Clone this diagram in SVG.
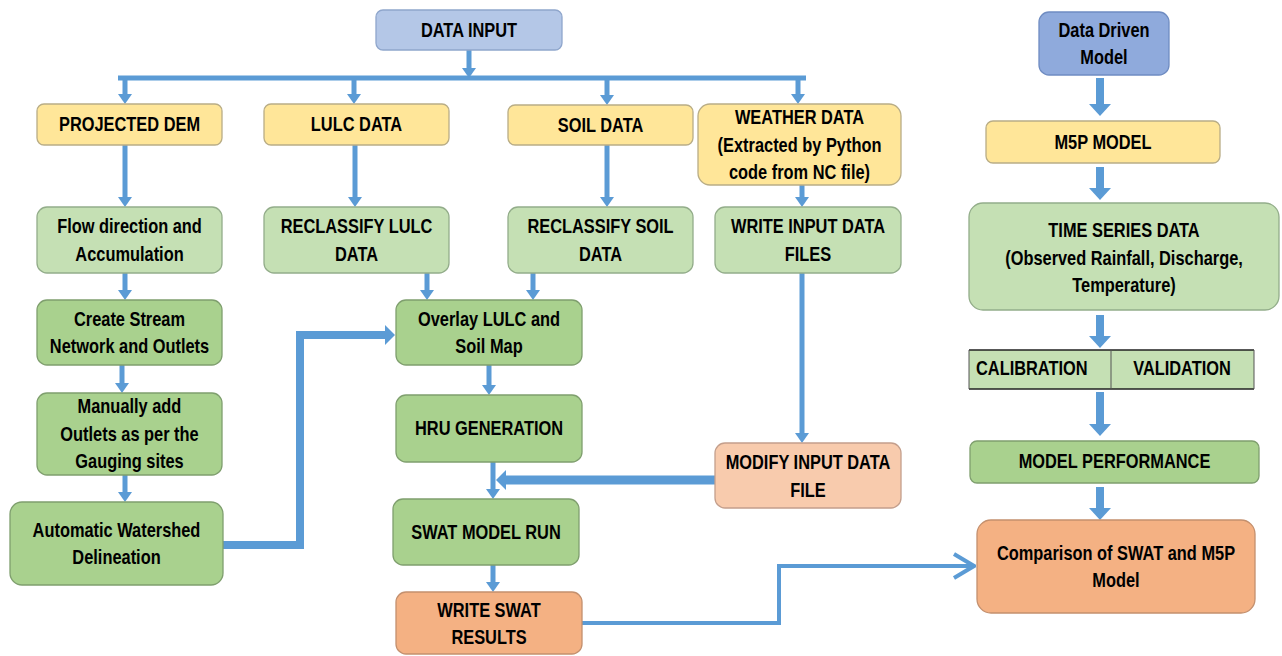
<svg xmlns="http://www.w3.org/2000/svg" width="1282" height="656" viewBox="0 0 1282 656">
<style>
  text { font-family: "Liberation Sans", Arial, sans-serif; font-weight: bold; font-size: 20px; fill: #000; text-anchor: middle; }
  .box { stroke-width: 1.3; }
  .blue { fill: #b4c7e7; stroke: #8fa6cc; }
  .dblue { fill: #8faadc; stroke: #6f8cc2; }
  .yel { fill: #ffe699; stroke: #b9ad86; }
  .lg { fill: #c5e0b4; stroke: #93ad8a; }
  .dg { fill: #a9d18e; stroke: #7f9f6e; }
  .or { fill: #f4b183; stroke: #c4906e; }
  .lor { fill: #f8cbad; stroke: #c49f8c; }
  .c { fill: none; stroke: #5b9bd5; }
  .s { stroke-width: 5; marker-end: url(#as); }
  .b { stroke-width: 8; marker-end: url(#ab); }
</style>
<defs>
  <marker id="as" markerUnits="userSpaceOnUse" markerWidth="12" markerHeight="16" viewBox="0 -8 11 16" refX="0" refY="0" orient="auto">
    <path d="M0,-7 L10,0 L0,7 z" fill="#5b9bd5"/>
  </marker>
  <marker id="ab" markerUnits="userSpaceOnUse" markerWidth="14" markerHeight="24" viewBox="0 -12 13 24" refX="0" refY="0" orient="auto">
    <path d="M0,-11 L12,0 L0,11 z" fill="#5b9bd5"/>
  </marker>
  <marker id="am" markerUnits="userSpaceOnUse" markerWidth="12" markerHeight="24" viewBox="0 -12 11 24" refX="0" refY="0" orient="auto">
    <path d="M0,-10 L10,0 L0,10 z" fill="#5b9bd5"/>
  </marker>
  <marker id="ch" markerUnits="userSpaceOnUse" markerWidth="26" markerHeight="30" viewBox="-24 -15 26 30" refX="0" refY="0" orient="auto">
    <path d="M-20,-12 L0,0 L-20,12" fill="none" stroke="#5b9bd5" stroke-width="4"/>
  </marker>
</defs>

<g id="connectors">
  <path class="c" d="M118,78 H806" stroke-width="5"/>
  <path class="c s" d="M469,50 V68"/>
  <path class="c s" d="M125,78 V94"/>
  <path class="c s" d="M354,78 V94"/>
  <path class="c s" d="M607,78 V95"/>
  <path class="c s" d="M798,78 V94"/>
  <path class="c s" d="M125,145 V197"/>
  <path class="c s" d="M355,145 V197"/>
  <path class="c s" d="M607,145 V197"/>
  <path class="c s" d="M802,185 V197"/>
  <path class="c s" d="M125,273 V290"/>
  <path class="c s" d="M427,273 V290"/>
  <path class="c s" d="M533,273 V290"/>
  <path class="c s" d="M122,365 V383"/>
  <path class="c s" d="M125,475 V492"/>
  <path class="c s" d="M489,365 V385"/>
  <path class="c s" d="M493,462 V489"/>
  <path class="c s" d="M493,565 V582"/>
  <path class="c s" d="M802,273 V433"/>
  <path class="c" d="M223,545 H300 V335 H385" stroke-width="8" marker-end="url(#am)"/>
  <path class="c" d="M715,480 H506" stroke-width="9" marker-end="url(#am)"/>
  <path class="c" d="M582,623 H779 V566 H974" stroke-width="4" marker-end="url(#ch)"/>
  <path class="c b" d="M1100,78 V104"/>
  <path class="c b" d="M1100,167 V188"/>
  <path class="c b" d="M1100,315 V336"/>
  <path class="c b" d="M1100,392 V424"/>
  <path class="c b" d="M1100,487 V508"/>
</g>

<g id="n-data-input"><rect class="box blue" x="376" y="10" width="186" height="40" rx="7"/><g transform="translate(469 0) scale(0.82 1)"><text y="37">DATA INPUT</text></g></g>
<g id="n-projected-dem"><rect class="box yel" x="37" y="104" width="185" height="41" rx="7"/><g transform="translate(129.5 0) scale(0.82 1)"><text y="131">PROJECTED DEM</text></g></g>
<g id="n-lulc-data"><rect class="box yel" x="264" y="104" width="185" height="41" rx="7"/><g transform="translate(356.5 0) scale(0.82 1)"><text y="131">LULC DATA</text></g></g>
<g id="n-soil-data"><rect class="box yel" x="508" y="105" width="185" height="40" rx="7"/><g transform="translate(600.5 0) scale(0.82 1)"><text y="132">SOIL DATA</text></g></g>
<g id="n-weather-data"><rect class="box yel" x="698" y="104" width="203" height="81" rx="12"/><g transform="translate(799.5 0) scale(0.82 1)"><text y="124">WEATHER DATA</text><text y="152">(Extracted by Python</text><text y="179">code from NC file)</text></g></g>

<g id="n-flow-direction"><rect class="box lg" x="37" y="207" width="185" height="66" rx="10"/><g transform="translate(129.5 0) scale(0.82 1)"><text y="233">Flow direction and</text><text y="261">Accumulation</text></g></g>
<g id="n-reclassify-lulc"><rect class="box lg" x="264" y="207" width="185" height="66" rx="10"/><g transform="translate(356.5 0) scale(0.82 1)"><text y="233">RECLASSIFY LULC</text><text y="261">DATA</text></g></g>
<g id="n-reclassify-soil"><rect class="box lg" x="508" y="207" width="185" height="66" rx="10"/><g transform="translate(600.5 0) scale(0.82 1)"><text y="233">RECLASSIFY SOIL</text><text y="261">DATA</text></g></g>
<g id="n-write-input"><rect class="box lg" x="715" y="207" width="186" height="66" rx="10"/><g transform="translate(808 0) scale(0.82 1)"><text y="233">WRITE INPUT DATA</text><text y="261">FILES</text></g></g>

<g id="n-create-stream"><rect class="box dg" x="37" y="300" width="185" height="65" rx="10"/><g transform="translate(129.5 0) scale(0.82 1)"><text y="326">Create Stream</text><text y="353">Network and Outlets</text></g></g>
<g id="n-manually-add"><rect class="box dg" x="37" y="393" width="185" height="82" rx="10"/><g transform="translate(129.5 0) scale(0.82 1)"><text y="413">Manually add</text><text y="441">Outlets as per the</text><text y="468">Gauging sites</text></g></g>
<g id="n-automatic-watershed"><rect class="box dg" x="10" y="502" width="213" height="83" rx="12"/><g transform="translate(116.5 0) scale(0.82 1)"><text y="537">Automatic Watershed</text><text y="564">Delineation</text></g></g>

<g id="n-overlay"><rect class="box dg" x="396" y="300" width="186" height="65" rx="10"/><g transform="translate(489 0) scale(0.82 1)"><text y="326">Overlay LULC and</text><text y="353">Soil Map</text></g></g>
<g id="n-hru"><rect class="box dg" x="396" y="395" width="186" height="67" rx="10"/><g transform="translate(489 0) scale(0.82 1)"><text y="435">HRU GENERATION</text></g></g>
<g id="n-swat-run"><rect class="box dg" x="393" y="499" width="186" height="66" rx="10"/><g transform="translate(486 0) scale(0.82 1)"><text y="539">SWAT MODEL RUN</text></g></g>
<g id="n-write-swat"><rect class="box or" x="396" y="592" width="186" height="62" rx="10"/><g transform="translate(489 0) scale(0.82 1)"><text y="617">WRITE SWAT</text><text y="644">RESULTS</text></g></g>
<g id="n-modify-input"><rect class="box lor" x="715" y="443" width="186" height="65" rx="10"/><g transform="translate(808 0) scale(0.82 1)"><text y="469">MODIFY INPUT DATA</text><text y="497">FILE</text></g></g>

<g id="n-data-driven"><rect class="box dblue" x="1039" y="12" width="130" height="63" rx="10"/><g transform="translate(1104 0) scale(0.82 1)"><text y="37">Data Driven</text><text y="64">Model</text></g></g>
<g id="n-m5p"><rect class="box yel" x="986" y="121" width="234" height="42" rx="7"/><g transform="translate(1103 0) scale(0.82 1)"><text y="149">M5P MODEL</text></g></g>
<g id="n-time-series"><rect class="box lg" x="969" y="203" width="310" height="107" rx="14"/><g transform="translate(1124 0) scale(0.82 1)"><text y="237">TIME SERIES DATA</text><text y="265">(Observed Rainfall, Discharge,</text><text y="292">Temperature)</text></g></g>
<g id="n-calib-valid"><rect x="969" y="350" width="285" height="39" fill="#c5e0b4"/><path d="M969,350 H1254 M969,389 H1254" stroke="#222" stroke-width="1.5"/><path d="M969,350 V389 M1254,350 V389 M1111,350 V389" stroke="#555" stroke-width="1"/><g transform="translate(976 0) scale(0.82 1)"><text y="375" style="text-anchor:start">CALIBRATION</text></g><g transform="translate(1182 0) scale(0.82 1)"><text y="375">VALIDATION</text></g></g>
<g id="n-model-performance"><rect class="box dg" x="970" y="441" width="289" height="42" rx="7"/><g transform="translate(1114.5 0) scale(0.82 1)"><text y="468">MODEL PERFORMANCE</text></g></g>
<g id="n-comparison"><rect class="box or" x="977" y="520" width="278" height="93" rx="14"/><g transform="translate(1116 0) scale(0.82 1)"><text y="560">Comparison of SWAT and M5P</text><text y="587">Model</text></g></g>
</svg>
